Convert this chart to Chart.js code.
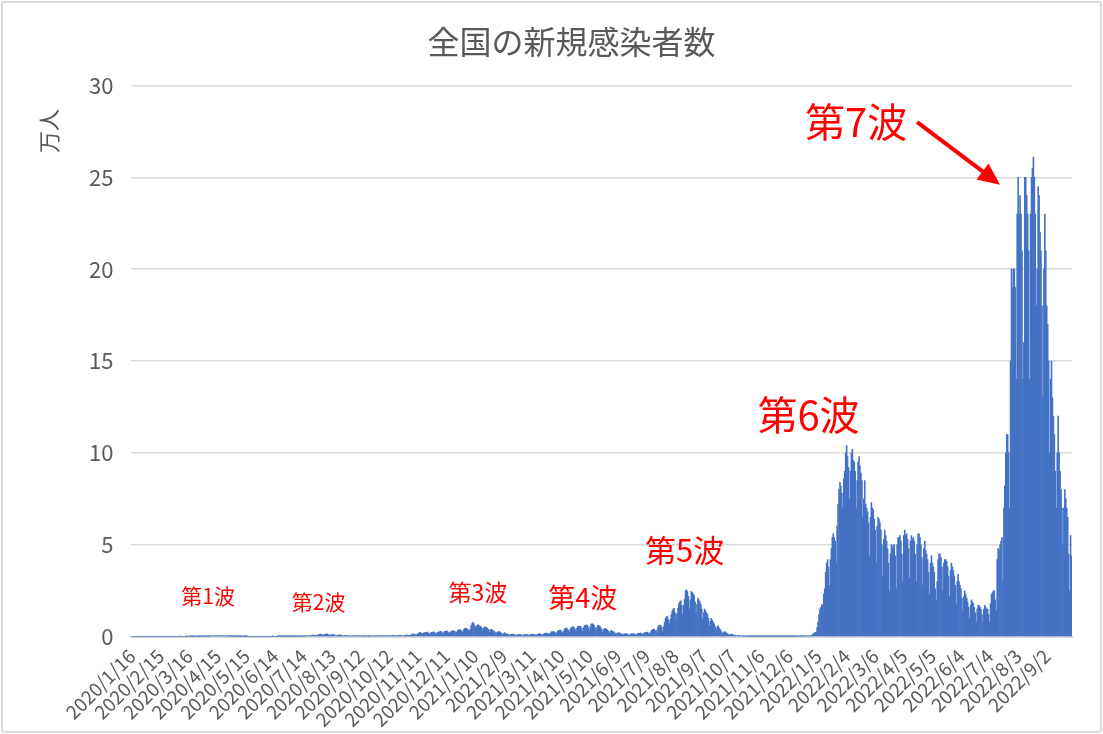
<!DOCTYPE html>
<html>
<head>
<meta charset="utf-8">
<script src="https://cdn.jsdelivr.net/npm/chart.js@4"></script>
<style>
  html, body { margin: 0; padding: 0; background: #fff; }
  #wrap { position: absolute; left: 1px; top: 1px; width: 1097px; height: 728px; border: 2px solid #d9d9d9; border-radius: 3px; }
  canvas { display: block; }
</style>
</head>
<body>
<div id="wrap"><canvas id="chart" width="1097" height="728"></canvas></div>
<script>
"use strict";

const startDate = '2020/1/16';
const yTicks = [0, 5, 10, 15, 20, 25, 30];

// daily new cases, unit: 100 people (weeks start on Thursday 2020/1/16)
const dailyCases = [
  0,0,0,0,0,0,0, 0,0,0,0,0,0,0, 0,0,0,0,0,0,0, 0,0,0,0,0,0,0,
  0,0,0,0,0,0,0, 0,0,0,0,0,0,0, 0,0,0,0,0,0,0, 0,0,1,0,0,0,0,
  0,1,1,0,0,1,1, 1,1,1,1,0,1,1, 1,1,2,1,1,2,2, 2,3,3,2,2,3,3,
  4,4,5,4,3,4,5, 6,6,5,4,3,4,5, 5,4,3,3,2,2,3, 2,2,2,1,1,1,1,
  1,1,1,1,0,1,1, 1,1,1,0,0,0,0, 0,0,0,0,0,0,0, 0,0,0,0,0,0,0,
  0,0,0,0,0,0,0, 0,1,0,0,0,0,1, 1,1,1,1,1,1,1, 1,1,1,1,1,1,1,
  1,1,2,2,1,1,2, 2,3,3,3,2,2,3, 3,4,4,4,3,4,6, 8,9,9,8,6,6,9,
  12,13,14,13,9,9,11, 13,15,14,12,8,9,10, 11,12,10,9,5,6,8, 9,10,9,7,4,5,6,
  7,7,6,5,3,4,5, 5,6,5,4,3,3,4, 5,5,5,4,2,3,4, 5,5,5,4,2,3,4,
  5,5,5,4,3,4,5, 6,6,5,4,3,4,5, 6,6,5,4,3,4,6, 6,6,6,5,3,5,6,
  6,7,7,6,4,5,7, 8,9,9,8,5,7,10, 13,14,15,13,9,11,16, 20,22,24,18,13,19,23,
  23,24,25,20,12,19,22, 24,25,26,21,13,20,25, 25,26,29,25,18,23,28, 29,30,30,25,18,23,30,
  31,33,31,28,20,26,35, 37,38,38,30,24,36,44, 44,47,41,36,28,41,60, 72,78,70,57,48,60,65,
  63,58,55,50,32,45,52, 52,50,45,40,25,38,40, 37,33,30,25,15,23,28, 27,26,22,18,10,15,22,
  17,15,15,12,7,10,13, 13,14,12,10,6,9,11, 11,12,11,9,5,10,11, 12,11,11,9,6,12,13,
  13,13,13,11,7,12,14, 15,15,14,12,8,14,17, 19,20,18,15,11,19,26, 27,28,26,22,15,22,30,
  35,36,34,27,20,30,42, 45,48,42,35,25,40,50, 52,55,50,42,30,47,56, 57,58,55,45,30,50,60,
  62,64,60,50,35,55,68, 70,68,62,50,32,50,62, 60,56,50,40,24,38,45, 44,40,36,30,18,28,34,
  30,28,25,20,12,18,22, 20,19,17,14,9,13,16, 16,15,14,12,8,12,15, 15,16,15,13,9,14,18,
  18,19,19,16,11,17,22, 23,24,25,20,14,23,32, 38,40,42,35,23,36,52, 60,63,62,50,30,55,80,
  100,110,110,90,70,95,120, 140,150,155,130,95,125,155, 180,190,195,170,120,170,205, 250,255,245,220,150,200,245,
  240,235,225,190,130,175,210, 200,190,175,150,95,130,150, 140,130,120,100,60,85,100, 90,80,70,55,35,50,60,
  50,42,35,25,15,22,28, 25,20,17,13,8,11,14, 12,10,9,7,4,5,7, 6,5,5,4,2,3,4,
  3,3,3,2,1,2,2, 2,2,2,1,1,1,2, 2,2,2,1,1,1,2, 2,2,2,1,1,1,2,
  1,1,1,1,1,1,2, 1,1,1,1,1,1,2, 1,1,1,1,1,1,2, 2,2,2,2,1,2,3,
  3,3,3,2,2,3,4, 4,4,5,4,3,5,7, 9,15,20,22,25,50,80, 120,150,160,175,170,230,260,
  350,400,420,380,280,420,480, 540,560,540,520,400,600,720, 800,840,820,780,700,860,900, 1000,1040,980,920,750,900,1000,
  1020,960,950,900,700,850,950, 980,930,890,850,650,750,850, 720,700,680,620,440,650,730, 700,690,640,580,400,600,650,
  640,620,580,500,330,530,580, 550,520,480,400,250,450,500, 480,500,500,440,260,500,540, 540,550,520,450,300,550,580,
  550,560,530,480,320,520,550, 530,540,520,450,300,500,560, 560,540,500,430,280,480,520, 470,450,420,350,230,400,440,
  400,380,350,260,200,300,420, 450,450,430,380,250,400,420, 420,410,380,330,220,360,400, 380,360,330,280,180,300,340,
  300,280,260,210,140,220,250, 230,210,190,160,100,170,200, 190,180,160,130,80,150,170, 170,160,150,120,80,150,170,
  160,150,150,120,80,180,230, 240,250,250,200,140,420,480, 470,500,520,540,300,700,820, 1000,1100,1100,1000,700,1500,2000,
  1900,2000,2000,1900,1400,2300,2500, 2300,2400,2300,2100,1400,1600,2500, 2500,2400,2300,2100,1400,2300,2500, 2550,2610,2500,2300,1800,2000,2450,
  2400,2200,2100,1800,1300,2000,2300, 2100,1800,1700,1500,1000,1400,1500, 1300,1200,1100,900,700,1000,1200, 1000,900,800,700,500,700,800,
  750,700,650,450,250,550,440
];

// wave labels: [text, day index, value (万人), font size]
const waveLabels = [
  ['第1波', 80, 2.2, 21],
  ['第2波', 196, 1.9, 21],
  ['第3波', 363, 2.4, 23],
  ['第4波', 473, 2.1, 27],
  ['第5波', 580, 4.7, 31],
  ['第6波', 710, 12.1, 40],
  ['第7波', 760, 28.0, 40],
];

const labels = (() => {
  const d = new Date(startDate);
  return dailyCases.map(() => {
    const s = `${d.getFullYear()}/${d.getMonth() + 1}/${d.getDate()}`;
    d.setDate(d.getDate() + 1);
    return s;
  });
})();

const font = '"Noto Sans CJK JP", "Noto Sans", sans-serif';
const textColor = '#595959';

const wavePlugin = {
  id: 'waves',
  afterDatasetsDraw(chart) {
    const { ctx, scales } = chart;
    ctx.save();
    // y axis unit, vertical near the top
    ctx.fillStyle = textColor;
    ctx.font = `22px ${font}`;
    ctx.translate(46, 128);
    ctx.rotate(-Math.PI / 2);
    ctx.textAlign = 'center';
    ctx.textBaseline = 'middle';
    ctx.fillText('万人', 0, 0);
    ctx.setTransform(1, 0, 0, 1, 0, 0);
    ctx.restore();
    ctx.save();
    ctx.fillStyle = '#ff0000';
    ctx.textAlign = 'center';
    ctx.textBaseline = 'middle';
    waveLabels.forEach(([text, idx, val, size]) => {
      ctx.font = `${size}px ${font}`;
      ctx.fillText(text, scales.x.getPixelForValue(idx), scales.y.getPixelForValue(val));
    });
    // arrow toward 7th wave peak
    const x0 = scales.x.getPixelForValue(824), y0 = scales.y.getPixelForValue(28.0);
    const x1 = scales.x.getPixelForValue(911), y1 = scales.y.getPixelForValue(24.6);
    ctx.strokeStyle = '#ff0000';
    ctx.lineWidth = 4;
    ctx.beginPath();
    ctx.moveTo(x0, y0);
    const ang = Math.atan2(y1 - y0, x1 - x0);
    ctx.lineTo(x1 - 14 * Math.cos(ang), y1 - 14 * Math.sin(ang));
    ctx.stroke();
    ctx.beginPath();
    ctx.moveTo(x1, y1);
    ctx.lineTo(x1 - 22 * Math.cos(ang) + 10 * Math.sin(ang), y1 - 22 * Math.sin(ang) - 10 * Math.cos(ang));
    ctx.lineTo(x1 - 22 * Math.cos(ang) - 10 * Math.sin(ang), y1 - 22 * Math.sin(ang) + 10 * Math.cos(ang));
    ctx.closePath();
    ctx.fill();
    ctx.restore();
  },
};

new Chart(document.getElementById('chart'), {
  type: 'bar',
  data: {
    labels,
    datasets: [{
      data: dailyCases.map((v) => v / 100),
      backgroundColor: '#4472c4',
      barPercentage: 1,
      categoryPercentage: 1,
      borderWidth: 0,
    }],
  },
  options: {
    responsive: false,
    animation: false,
    layout: { padding: { left: 68, right: 28, top: 14, bottom: 0 } },
    scales: {
      x: {
        grid: { display: false },
        border: { color: '#d9d9d9', width: 2 },
        ticks: {
          autoSkip: false,
          minRotation: 45,
          maxRotation: 45,
          color: textColor,
          font: { family: font, size: 19 },
          padding: 0,
          callback: (value, index) => (index % 30 === 0 ? labels[index] : ''),
        },
      },
      y: {
        min: 0,
        max: 30,
        afterBuildTicks: (axis) => { axis.ticks = yTicks.map((v) => ({ value: v })); },
        grid: { color: '#d9d9d9', lineWidth: 1.5, drawTicks: false },
        border: { display: false },
        ticks: { color: textColor, font: { family: font, size: 22 }, padding: 18 },
      },
    },
    plugins: {
      legend: { display: false },
      tooltip: { enabled: false },
      title: {
        display: true,
        text: '全国の新規感染者数',
        color: textColor,
        font: { family: font, size: 32, weight: 'normal' },
        padding: { top: 6, bottom: 24 },
      },
    },
  },
  plugins: [wavePlugin],
});
</script>
</body>
</html>
